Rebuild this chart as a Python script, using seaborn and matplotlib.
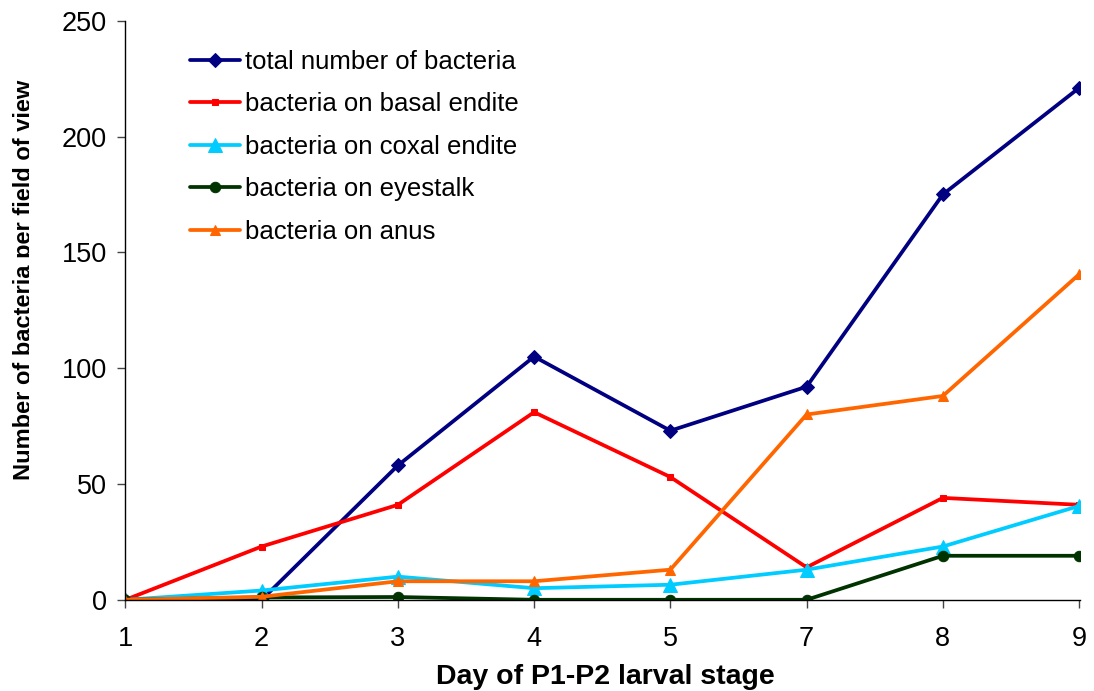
import matplotlib
matplotlib.use("Agg")
import matplotlib.pyplot as plt
import seaborn as sns
import pandas as pd
from matplotlib.patches import Rectangle

days = ["1", "2", "3", "4", "5", "7", "8", "9"]
total = [0, 0, 58, 105, 73, 92, 175, 221]
basal = [0, 23, 41, 81, 53, 14, 44, 41]
coxal = [0, 4, 10, 5, 6.5, 13, 23, 40.5]
eyestalk = [0, 1, 1.2, 0, 0, 0, 19, 19]
anus = [0, 1.3, 8, 8, 13, 80, 88, 140.5]

names = ["total number of bacteria", "bacteria on basal endite",
         "bacteria on coxal endite", "bacteria on eyestalk", "bacteria on anus"]
series = [total, basal, coxal, eyestalk, anus]
colors = ["#000080", "#FF0000", "#00CCFF", "#003300", "#FF6600"]
markers = ["D", "s", "^", "o", "^"]
msizes = [7.5, 5, 9.5, 7.5, 7]

rows = []
for n, vals in zip(names, series):
    for d, v in zip(days, vals):
        rows.append({"day": d, "value": v, "series": n})
df = pd.DataFrame(rows)

sns.set_theme(style="white")
plt.rcParams["font.family"] = ["Liberation Sans", "DejaVu Sans"]
plt.rcParams["text.color"] = "black"
plt.rcParams["axes.labelcolor"] = "black"

W, H = 1094, 691
fig = plt.figure(figsize=(W / 100, H / 100), dpi=100)
ax = fig.add_axes([0.114, 0.132, 0.873, 0.838])

for n, c, m, s in zip(names, colors, markers, msizes):
    sub = df[df["series"] == n]
    sns.lineplot(data=sub, x="day", y="value", ax=ax, color=c, marker=m,
                 markersize=s, markeredgecolor=c, linewidth=2.7, label=n,
                 sort=False)

ax.set_ylim(0, 250)
ax.set_yticks([0, 50, 100, 150, 200, 250])
ax.set_xlim(-0.005, 7.005)
for sp in ["top", "right"]:
    ax.spines[sp].set_visible(False)
for sp in ["left", "bottom"]:
    ax.spines[sp].set_color("black")
    ax.spines[sp].set_linewidth(1.0)
ax.tick_params(axis="both", direction="out", length=6, width=1, color="#444444",
               labelsize=19.5, labelcolor="black")
ax.tick_params(axis="x", pad=13)
ax.tick_params(axis="y", pad=7)
ax.yaxis.set_ticks_position("left")
ax.xaxis.set_ticks_position("bottom")

ax.set_xlabel("Day of P1-P2 larval stage", fontsize=20.5, fontweight="bold",
              color="black")
ax.xaxis.set_label_coords(605 / W, 1 - 664 / H, transform=fig.transFigure)
ax.set_ylabel("")

yl = fig.text(36 / W, 1 - 280 / H, "Number of bacteria per field of view",
              rotation=90, ha="right", va="center", fontsize=17, fontweight="bold",
              color="black")
yl.set_clip_path(Rectangle((0, 0), 29 / W, 1, transform=fig.transFigure))
yl.set_clip_on(True)

leg = ax.legend(loc="upper left", bbox_to_anchor=(0.0437, 0.99), frameon=False,
                fontsize=18.5, handlelength=1.95, handletextpad=0.2, labelspacing=0.72)
for t in leg.get_texts():
    t.set_color("black")

fig.savefig("out.png", dpi=100)
